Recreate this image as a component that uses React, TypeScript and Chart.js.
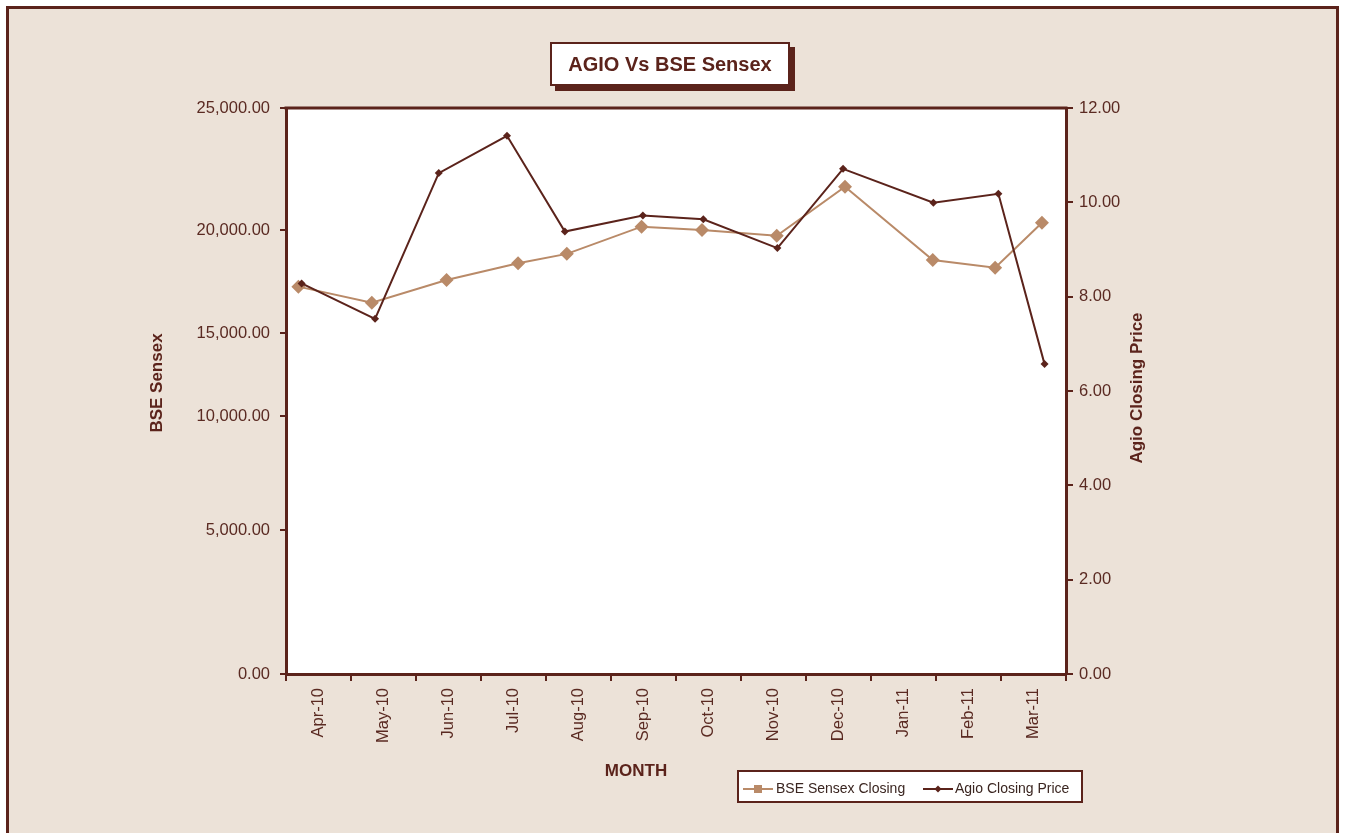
import React, { useEffect, useRef } from 'react';
import { Chart, LinearScale, registerables } from 'chart.js';

// ---------- data ----------
const MONTHS = ['Apr-10', 'May-10', 'Jun-10', 'Jul-10', 'Aug-10', 'Sep-10', 'Oct-10', 'Nov-10', 'Dec-10', 'Jan-11', 'Feb-11', 'Mar-11'];
// position of each closing point inside the month axis (month index + part of month)
const BSE_POS = [0.19, 1.32, 2.47, 3.57, 4.32, 5.47, 6.40, 7.55, 8.60, 9.95, 10.91, 11.63];
const BSE_CLOSE = [17250, 16470, 17570, 18380, 18840, 20135, 20000, 19720, 21775, 18540, 18170, 20300];
const AGIO_POS = [0.24, 1.37, 2.35, 3.40, 4.29, 5.49, 6.42, 7.56, 8.57, 9.96, 10.96, 11.67];
const AGIO_CLOSE = [8.28, 7.53, 10.62, 11.41, 9.38, 9.72, 9.64, 9.03, 10.71, 9.99, 10.18, 6.57];
const LEFT_TICKS = [0, 5000, 10000, 15000, 20000, 25000];
const RIGHT_TICKS = [0, 2, 4, 6, 8, 10, 12];

// where the original chart placed its left-axis ticks (share of axis height)
const LEFT_TICK_DECIMALS = [0, 0.2544, 0.455, 0.6025, 0.7845, 1];

const DARK = '#5B231B';
const TAN = '#B98A68';
const BG = '#ECE2D8';
const LABEL = '#5A2A22';
const FONT = "'Liberation Sans', Arial, Helvetica, sans-serif";

function valueToDecimal(v: number): number {
  const t = LEFT_TICKS, d = LEFT_TICK_DECIMALS;
  for (let i = 1; i < t.length; i++) {
    if (v <= t[i] || i === t.length - 1) {
      return d[i - 1] + ((v - t[i - 1]) / (t[i] - t[i - 1])) * (d[i] - d[i - 1]);
    }
  }
  return 0;
}
function decimalToValue(p: number): number {
  const t = LEFT_TICKS, d = LEFT_TICK_DECIMALS;
  for (let i = 1; i < d.length; i++) {
    if (p <= d[i] || i === d.length - 1) {
      return t[i - 1] + ((p - d[i - 1]) / (d[i] - d[i - 1])) * (t[i] - t[i - 1]);
    }
  }
  return 0;
}

class PiecewiseScale extends LinearScale {
  static id = 'piecewise';
  getPixelForValue(value: any) {
    if (value === null || value === undefined || isNaN(value)) return NaN;
    return this.getPixelForDecimal(valueToDecimal(+value));
  }
  getValueForPixel(pixel: number) {
    return decimalToValue(this.getDecimalForPixel(pixel));
  }
}

Chart.register(...registerables, PiecewiseScale as any);

const W = 1327;
const H = 824;

const decor = {
  id: 'decor',
  beforeDraw(chart: any) {
    const { ctx, chartArea: a } = chart;
    ctx.save();
    ctx.fillStyle = '#ffffff';
    ctx.fillRect(a.left, a.top, a.right - a.left, a.bottom - a.top);
    ctx.restore();
  },
  afterDraw(chart: any) {
    const { ctx, chartArea: a } = chart;
    ctx.save();
    // plot frame top edge
    ctx.strokeStyle = DARK;
    ctx.lineWidth = 3;
    ctx.beginPath();
    ctx.moveTo(a.left - 1.5, a.top);
    ctx.lineTo(a.right + 1.5, a.top);
    ctx.stroke();

    // title box with shadow
    const tx = 541, ty = 33, tw = 240, th = 44;
    ctx.fillStyle = DARK;
    ctx.fillRect(tx + 5, ty + 5, tw, th);
    ctx.fillStyle = '#ffffff';
    ctx.fillRect(tx, ty, tw, th);
    ctx.lineWidth = 2;
    ctx.strokeStyle = DARK;
    ctx.strokeRect(tx + 1, ty + 1, tw - 2, th - 2);
    ctx.fillStyle = DARK;
    ctx.font = `bold 20px ${FONT}`;
    ctx.textAlign = 'center';
    ctx.textBaseline = 'middle';
    ctx.fillText('AGIO Vs BSE Sensex', tx + tw / 2, ty + th / 2 + 1);

    // axis titles
    ctx.font = `bold 17px ${FONT}`;
    ctx.fillStyle = DARK;
    ctx.save();
    ctx.translate(148, 374);
    ctx.rotate(-Math.PI / 2);
    ctx.fillText('BSE Sensex', 0, 0);
    ctx.restore();
    ctx.save();
    ctx.translate(1128, 379);
    ctx.rotate(-Math.PI / 2);
    ctx.fillText('Agio Closing Price', 0, 0);
    ctx.restore();
    ctx.fillText('MONTH', 627, 762);

    // legend
    const lx = 728, ly = 761, lw = 346, lh = 33;
    ctx.fillStyle = '#ffffff';
    ctx.fillRect(lx, ly, lw, lh);
    ctx.strokeStyle = DARK;
    ctx.lineWidth = 2;
    ctx.strokeRect(lx + 1, ly + 1, lw - 2, lh - 2);
    const cy = 780;
    // BSE item
    ctx.strokeStyle = TAN;
    ctx.lineWidth = 2;
    ctx.beginPath();
    ctx.moveTo(734, cy);
    ctx.lineTo(764, cy);
    ctx.stroke();
    ctx.fillStyle = TAN;
    ctx.fillRect(749 - 4, cy - 4, 8, 8);
    // Agio item
    ctx.strokeStyle = DARK;
    ctx.beginPath();
    ctx.moveTo(914, cy);
    ctx.lineTo(944, cy);
    ctx.stroke();
    ctx.fillStyle = DARK;
    ctx.beginPath();
    ctx.moveTo(929, cy - 3.5);
    ctx.lineTo(932.5, cy);
    ctx.lineTo(929, cy + 3.5);
    ctx.lineTo(925.5, cy);
    ctx.closePath();
    ctx.fill();
    ctx.fillStyle = '#3a2520';
    ctx.font = `14px ${FONT}`;
    ctx.textAlign = 'left';
    ctx.fillText('BSE Sensex Closing', 767, cy);
    ctx.fillText('Agio Closing Price', 946, cy);
    ctx.restore();
  },
};

export default function App() {
  const ref = useRef<HTMLCanvasElement | null>(null);

  useEffect(() => {
    if (!ref.current) return;
    const bsePoints = BSE_POS.map((x, i) => ({ x, y: BSE_CLOSE[i] }));
    const agioPoints = AGIO_POS.map((x, i) => ({ x, y: AGIO_CLOSE[i] }));
    const chart = new Chart(ref.current, {
      type: 'line',
      data: {
        labels: MONTHS,
        datasets: [
          {
            label: 'BSE Sensex Closing',
            data: bsePoints,
            xAxisID: 'x2',
            yAxisID: 'y',
            borderColor: TAN,
            backgroundColor: TAN,
            borderWidth: 2,
            pointStyle: 'rectRot',
            pointRadius: 7,
            pointBorderWidth: 0,
            pointBackgroundColor: TAN,
            tension: 0,
            order: 1,
          },
          {
            label: 'Agio Closing Price',
            data: agioPoints,
            xAxisID: 'x2',
            yAxisID: 'y1',
            borderColor: DARK,
            backgroundColor: DARK,
            borderWidth: 2,
            pointStyle: 'rectRot',
            pointRadius: 4,
            pointBorderWidth: 0,
            pointBackgroundColor: DARK,
            tension: 0,
            order: 0,
          },
        ],
      } as any,
      options: {
        animation: false,
        responsive: false,
        maintainAspectRatio: false,
        devicePixelRatio: 1,
        layout: { padding: { top: 99, left: 0, right: 0, bottom: 0 } },
        plugins: {
          legend: { display: false },
          title: { display: false },
          tooltip: { enabled: false },
        },
        scales: {
          x: {
            type: 'category',
            position: 'bottom',
            offset: true,
            afterFit: (s: any) => { s.height = H - 665; },
            grid: { offset: true, drawOnChartArea: false, drawTicks: true, tickLength: 7, color: DARK, lineWidth: 2 },
            border: { display: true, color: DARK, width: 3 },
            ticks: {
              autoSkip: false,
              minRotation: 90,
              maxRotation: 90,
              padding: 7,
              color: LABEL,
              font: { family: FONT, size: 16.5 },
            },
          },
          x2: {
            type: 'linear',
            position: 'bottom',
            display: false,
            min: 0,
            max: 12,
          },
          y: {
            type: 'piecewise',
            position: 'left',
            min: 0,
            max: 25000,
            afterBuildTicks: (s: any) => { s.ticks = LEFT_TICKS.map((v) => ({ value: v })); },
            afterFit: (s: any) => { s.width = 277; },
            grid: { drawOnChartArea: false, drawTicks: true, tickLength: 6, color: DARK, lineWidth: 2 },
            border: { display: true, color: DARK, width: 3 },
            ticks: {
              padding: 10,
              color: LABEL,
              font: { family: FONT, size: 16.5 },
              callback: (v: any) => Number(v).toLocaleString('en-US', { minimumFractionDigits: 2, maximumFractionDigits: 2 }),
            },
          } as any,
          y1: {
            type: 'linear',
            position: 'right',
            min: 0,
            max: 12,
            afterBuildTicks: (s: any) => { s.ticks = RIGHT_TICKS.map((v) => ({ value: v })); },
            afterFit: (s: any) => { s.width = W - 1057; },
            grid: { drawOnChartArea: false, drawTicks: true, tickLength: 7, color: DARK, lineWidth: 2 },
            border: { display: true, color: DARK, width: 3 },
            ticks: {
              padding: 6,
              color: LABEL,
              font: { family: FONT, size: 16.5 },
              callback: (v: any) => Number(v).toFixed(2),
            },
          },
        },
      } as any,
      plugins: [decor],
    });
    return () => chart.destroy();
  }, []);

  return (
    <div
      style={{
        position: 'fixed',
        left: 6,
        top: 6,
        width: W,
        height: 850,
        border: `3px solid ${DARK}`,
        background: BG,
      }}
    >
      <canvas ref={ref} width={W} height={H} style={{ display: 'block', width: W, height: H }} />
    </div>
  );
}
